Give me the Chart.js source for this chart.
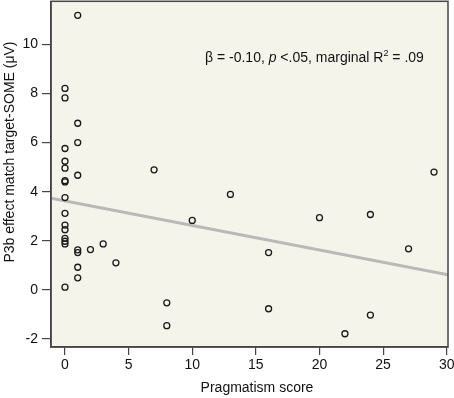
<!DOCTYPE html>
<html>
<head>
<meta charset="utf-8">
<script src="https://cdn.jsdelivr.net/npm/chart.js@4"></script>
<style>
  html, body { margin: 0; padding: 0; background: #fff; }
  #wrap { width: 454px; height: 398px; overflow: hidden; }
  #myChart { display: block; margin-top: -4px; }
</style>
</head>
<body>
<div id="wrap"><canvas id="myChart" width="454" height="402"></canvas></div>
<script>
// data
const pragmatism = [0, 0, 0, 0, 0, 0, 0, 0, 0, 0, 0, 0, 0, 0, 0,
	1, 1, 1, 1, 1, 1, 1, 1,
	2, 3, 4, 7, 8, 8, 10, 13, 16, 16, 20, 22, 24, 24, 27, 29];
const p3bEffect = [8.21, 7.82, 5.76, 5.24, 4.96, 4.45, 4.40, 3.76, 3.12, 2.64, 2.45, 2.10, 1.98, 1.87, 0.11,
	11.19, 6.79, 6.00, 4.67, 1.63, 1.52, 0.92, 0.49,
	1.64, 1.87, 1.10, 4.89, -0.53, -1.46, 2.83, 3.89, 1.52, -0.77, 2.94, -1.79, 3.07, -1.03, 1.67, 4.80];
const xTicks = [0, 5, 10, 15, 20, 25, 30];
const yTicks = [-2, 0, 2, 4, 6, 8, 10];
const xRange = [-1.1, 30.1];
const yRange = [-2.33, 11.76];
const fitIntercept = 3.62;
const fitSlope = -0.10;
const xTitle = "Pragmatism score";
const yTitle = "P3b effect match target-SOME (\u03bcV)";

const FONT = "Arial, 'Liberation Sans', sans-serif";
const SHIFT = 4; // canvas is pulled up by this much (chart.js keeps a few px above the plot)

// regression line across the plotted x range
const fitLine = xRange.map(x => ({ x: x, y: fitIntercept + fitSlope * x }));

const decor = {
	id: 'decor',
	beforeDraw(chart) {
		const { ctx, chartArea: a } = chart;
		ctx.save();
		ctx.fillStyle = '#f5f4eb';
		ctx.fillRect(a.left, a.top, a.right - a.left, a.bottom - a.top);
		ctx.restore();
	},
	afterDraw(chart) {
		const { ctx, chartArea: a } = chart;
		ctx.save();
		ctx.strokeStyle = '#444';
		ctx.lineWidth = 1.5;
		ctx.strokeRect(a.left, a.top, a.right - a.left, a.bottom - a.top);

		ctx.fillStyle = '#111';
		ctx.font = '14px ' + FONT;
		ctx.textBaseline = 'middle';
		ctx.textAlign = 'center';
		ctx.fillText(xTitle, 257, 388 + SHIFT);

		ctx.save();
		ctx.translate(10, 152 + SHIFT);
		ctx.rotate(-Math.PI / 2);
		ctx.fillText(yTitle, 0, 0);
		ctx.restore();

		// annotation
		ctx.textAlign = 'left';
		ctx.textBaseline = 'alphabetic';
		let x = 205, y = 62 + SHIFT;
		const parts = [
			['\u03b2 = -0.10, ', '14px ' + FONT, 0],
			['p', 'italic 14px ' + FONT, 0],
			[' <.05, marginal R', '14px ' + FONT, 0],
			['2', '9px ' + FONT, -6],
			[' = .09', '14px ' + FONT, 0]
		];
		parts.forEach(p => {
			ctx.font = p[1];
			ctx.fillText(p[0], x, y + p[2]);
			x += ctx.measureText(p[0]).width;
		});
		ctx.restore();
	}
};

const ctx = document.getElementById('myChart').getContext('2d');
const myChart = new Chart(ctx, {
	type: 'scatter',
	data: {
		datasets: [{
			type: 'line',
			data: fitLine,
			borderColor: '#b9b9b6',
			borderWidth: 3,
			pointRadius: 0,
			fill: false,
			order: 2
		}, {
			data: pragmatism.map((x, i) => ({ x: x, y: p3bEffect[i] })),
			pointRadius: 3,
			pointBorderWidth: 1.3,
			pointBorderColor: '#1a1a1a',
			pointBackgroundColor: 'rgba(0,0,0,0)',
			order: 1
		}]
	},
	options: {
		responsive: false,
		animation: false,
		layout: { padding: { top: 1, right: 6, left: 0, bottom: 0 } },
		plugins: { legend: { display: false }, tooltip: { enabled: false } },
		scales: {
			x: {
				type: 'linear',
				min: xRange[0],
				max: xRange[1],
				afterBuildTicks: s => { s.ticks = xTicks.map(v => ({ value: v })); },
				afterFit: s => { s.height = 51; s.paddingLeft = 0; s.paddingRight = 0; },
				grid: { drawOnChartArea: false, drawTicks: true, tickLength: 8, color: '#444', lineWidth: 1.2 },
				border: { color: '#444', width: 1.5 },
				ticks: { color: '#111', font: { family: FONT, size: 14 }, padding: 2, maxRotation: 0 }
			},
			y: {
				type: 'linear',
				min: yRange[0],
				max: yRange[1],
				afterBuildTicks: s => { s.ticks = yTicks.map(v => ({ value: v })); },
				afterFit: s => { s.width = 51; s.paddingTop = 0; s.paddingBottom = 0; },
				grid: { drawOnChartArea: false, drawTicks: true, tickLength: 9, color: '#444', lineWidth: 1.2 },
				border: { color: '#444', width: 1.5 },
				ticks: { color: '#111', font: { family: FONT, size: 14 }, padding: 4 }
			}
		}
	},
	plugins: [decor]
});
</script>
</body>
</html>
